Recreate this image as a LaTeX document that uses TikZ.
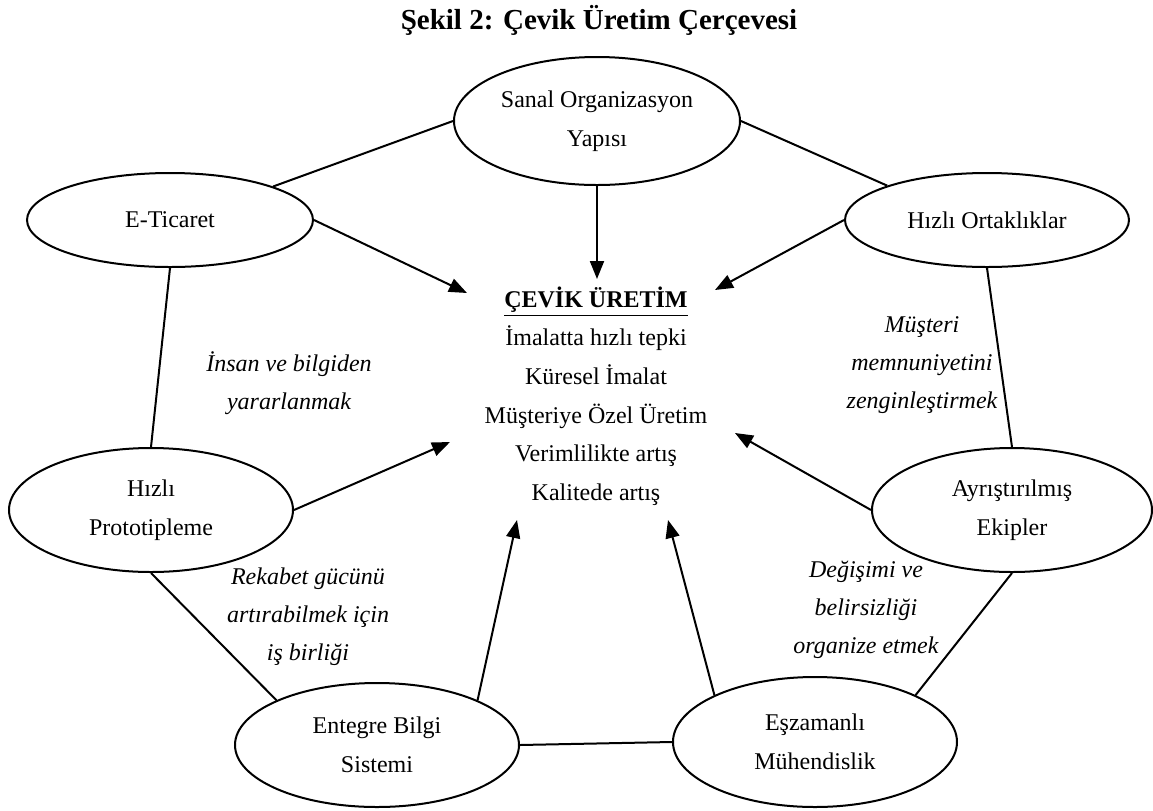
\documentclass[tikz,border=0pt]{standalone}
\usepackage{fontspec}
\setmainfont{Liberation Serif}
\usetikzlibrary{shapes.geometric}
\usetikzlibrary{arrows.meta}

\begin{document}
\begin{tikzpicture}[x=0.5pt,y=-0.5pt,
    blob/.style={shape=ellipse,draw=black,line width=1pt,inner sep=0pt,align=center,font=\fontsize{12}{19.5}\selectfont},
    lbl/.style={align=center,font=\fontsize{12}{19}\selectfont\itshape}]
    \useasboundingbox (0,0) rectangle (1153,810);

    \node[font=\fontsize{14.5}{17}\selectfont\bfseries,anchor=base] (T) at (599,29) {Şekil 2: Çevik Üretim Çerçevesi};

    \node[blob,minimum width=143pt,minimum height=64pt] (S_O) at (597,121) {Sanal Organizasyon\\Yapısı};
    \node[blob,minimum width=143pt,minimum height=47pt] (E_T) at (170,220) {E-Ticaret};
    \node[blob,minimum width=142pt,minimum height=47pt] (H_O) at (987,220) {Hızlı Ortaklıklar};
    \node[blob,minimum width=142pt,minimum height=62pt] (H_P) at (151,510) {Hızlı\\Prototipleme};
    \node[blob,minimum width=140pt,minimum height=62pt] (A_E) at (1012,510) {Ayrıştırılmış\\Ekipler};
    \node[blob,minimum width=142pt,minimum height=62pt] (E_B) at (377,745) {Entegre Bilgi\\Sistemi};
    \node[blob,minimum width=142pt,minimum height=65pt] (E_M) at (815,742) {Eşzamanlı\\Mühendislik};

    \node[align=center,font=\fontsize{12}{19.3}\selectfont] (C_U) at (596,396) {\underline{\textbf{ÇEVİK ÜRETİM}}\\İmalatta hızlı tepki\\Küresel İmalat\\Müşteriye Özel Üretim\\Verimlilikte artış\\Kalitede artış};

    \node[lbl] (L_IB) at (289,383) {İnsan ve bilgiden\\yararlanmak};
    \node[lbl] (L_MM) at (922,365) {Müşteri\\memnuniyetini\\zenginleştirmek};
    \node[lbl] (L_RG) at (308,617) {Rekabet gücünü\\artırabilmek için\\iş birliği};
    \node[lbl] (L_DB) at (866,610) {Değişimi ve\\belirsizliği\\organize etmek};

    % ring
    \draw[line width=1pt] (S_O.west) -- (E_T.18);
    \draw[line width=1pt] (S_O.east) -- (H_O.161);
    \draw[line width=1pt] (E_T.south) -- (H_P.north);
    \draw[line width=1pt] (H_O.south) -- (A_E.north);
    \draw[line width=1pt] (H_P.south) -- (E_B.156);
    \draw[line width=1pt] (A_E.south) -- (E_M.25);
    \draw[line width=1pt] (E_B.east) -- (E_M.west);

    % arrows into the centre
    \coordinate (t_SO) at (597,279);
    \coordinate (t_ET) at (467,293);
    \coordinate (t_HO) at (715,290);
    \coordinate (t_HP) at (450,442);
    \coordinate (t_AE) at (735,433);
    \coordinate (t_EB) at (517,520);
    \coordinate (t_EM) at (668,520);

    \path [-{Triangle[length=9pt, width=7pt]}, line width=1pt] (S_O.south) edge (t_SO);
    \path [-{Triangle[length=9pt, width=7pt]}, line width=1pt] (E_T.east) edge (t_ET);
    \path [-{Triangle[length=9pt, width=7pt]}, line width=1pt] (H_O.west) edge (t_HO);
    \path [-{Triangle[length=9pt, width=7pt]}, line width=1pt] (H_P.east) edge (t_HP);
    \path [-{Triangle[length=9pt, width=7pt]}, line width=1pt] (A_E.west) edge (t_AE);
    \path [-{Triangle[length=9pt, width=7pt]}, line width=1pt] (E_B.24) edge (t_EB);
    \path [-{Triangle[length=9pt, width=7pt]}, line width=1pt] (E_M.155) edge (t_EM);
\end{tikzpicture}
\end{document}
